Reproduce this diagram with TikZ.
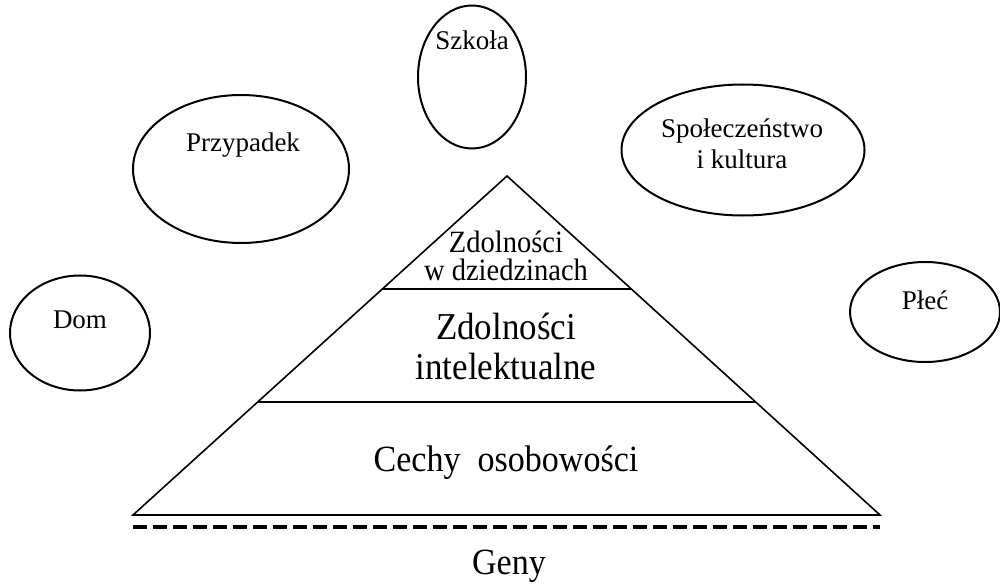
\documentclass[tikz,border=0pt]{standalone}
\usepackage{fontspec}
\setmainfont{LiberationSerif}[Extension=.ttf,UprightFont=*-Regular,BoldFont=*-Bold]
\newfontfamily\pyrfont{LiberationSerif}[Extension=.ttf,UprightFont=*-Regular,FakeStretch=0.92]
\usetikzlibrary{shapes.geometric,calc}
\begin{document}
\begin{tikzpicture}[x=1pt,y=-1pt,
  factor/.style={ellipse,draw,line width=2pt,inner sep=0pt},
  ftext/.style={font=\fontsize{27}{31}\selectfont,align=center,inner sep=0pt},
  ptext/.style={font=\pyrfont,align=center,inner sep=0pt},
  pline/.style={line width=1.6pt,line join=miter}]
\useasboundingbox (0,0) rectangle (1000,588);
% ellipses
\node[factor,minimum width=108pt,minimum height=143pt] (szkola) at (472,77) {};
\node[ftext] (szkolaT) at (472,40) {Szkoła};
\node[factor,minimum width=216pt,minimum height=148pt] (przyp) at (241,169) {};
\node[ftext] (przypT) at (243,145) {Przypadek};
\node[factor,minimum width=243pt,minimum height=131pt] (spol) at (743,150) {};
\node[ftext] (spolT) at (742,144) {Społeczeństwo\\i kultura};
\node[factor,minimum width=140pt,minimum height=115pt] (dom) at (80,333) {};
\node[ftext] (domT) at (80,320) {Dom};
\node[factor,minimum width=150pt,minimum height=100pt] (plec) at (925,312) {};
\node[ftext] (plecT) at (925,300) {Płeć};
% pyramid
\coordinate (apex) at (507,176);
\coordinate (bl) at (133,515);
\coordinate (br) at (880,515);
\draw[pline] (apex) -- (bl) -- (br) -- cycle;
\coordinate (l1a) at ($(apex)!1/3!(bl)$);
\coordinate (l1b) at ($(apex)!1/3!(br)$);
\coordinate (l2a) at ($(apex)!2/3!(bl)$);
\coordinate (l2b) at ($(apex)!2/3!(br)$);
\draw[pline] (l1a) -- (l1b);
\draw[pline] (l2a) -- (l2b);
\node[ptext,font=\pyrfont\fontsize{31}{28}\selectfont] (top) at (506,256) {Zdolności\\w dziedzinach};
\node[ptext,font=\pyrfont\fontsize{38}{40}\selectfont] (mid) at (506,346) {Zdolności\\intelektualne};
\node[ptext,font=\pyrfont\fontsize{37}{40}\selectfont] (bot) at (506,463) {Cechy\ \ osobowości};
% genes
\coordinate (ga) at (133,527);
\coordinate (gb) at (880,527);
\draw[line width=4pt,dash pattern=on 14pt off 6pt] (ga) -- (gb);
\node[ptext,font=\pyrfont\fontsize{37}{40}\selectfont] (geny) at (509,566) {Geny};
\end{tikzpicture}
\end{document}
